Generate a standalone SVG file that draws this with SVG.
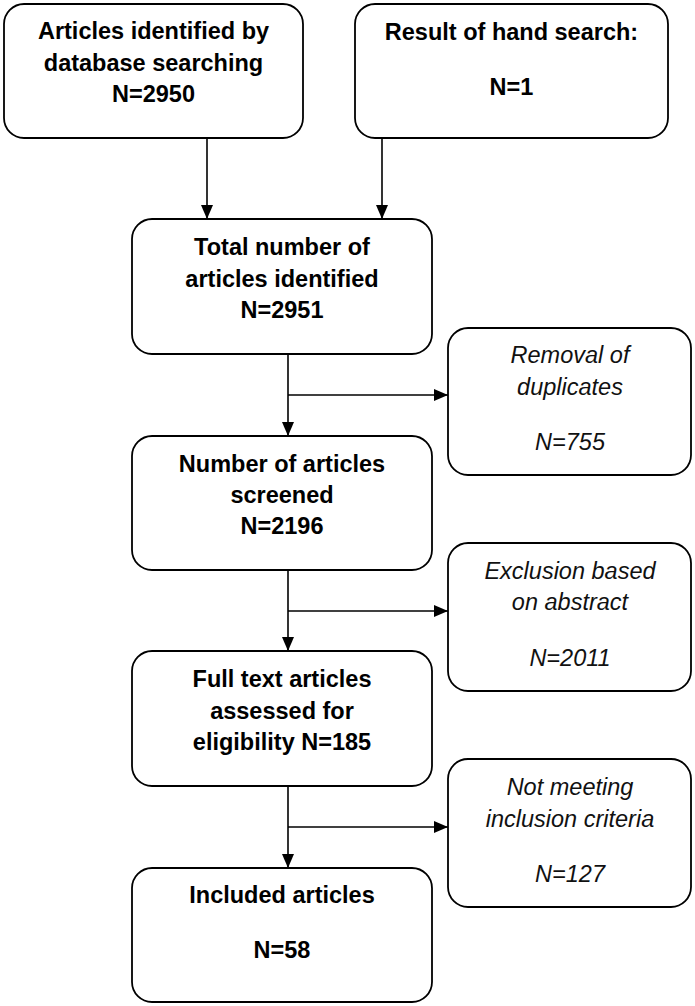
<svg xmlns="http://www.w3.org/2000/svg" width="695" height="1006" viewBox="0 0 695 1006">
<style>
.box{fill:#fff;stroke:#000;stroke-width:1.8}
.b{font-family:"Liberation Sans",Arial,sans-serif;font-weight:bold;font-size:23.5px;text-anchor:middle;fill:#000}
.i{font-family:"Liberation Sans",Arial,sans-serif;font-style:italic;font-size:23.5px;text-anchor:middle;fill:#111}
.ln{fill:none;stroke:#000;stroke-width:1.6}
</style>
<defs>
<marker id="ah" viewBox="0 0 14 12" refX="14" refY="6" markerWidth="14" markerHeight="12" markerUnits="userSpaceOnUse" orient="auto">
<path d="M0,0 L14,6 L0,12 Z" fill="#000"/>
</marker>
</defs>
<rect width="695" height="1006" fill="#fff"/>
<g id="connectors">
<line class="ln" x1="207" y1="138" x2="207" y2="219" marker-end="url(#ah)"/>
<line class="ln" x1="382" y1="138" x2="382" y2="219" marker-end="url(#ah)"/>
<line class="ln" x1="288" y1="354" x2="288" y2="436" marker-end="url(#ah)"/>
<line class="ln" x1="288" y1="395" x2="448" y2="395" marker-end="url(#ah)"/>
<line class="ln" x1="288" y1="570" x2="288" y2="651" marker-end="url(#ah)"/>
<line class="ln" x1="288" y1="611" x2="448" y2="611" marker-end="url(#ah)"/>
<line class="ln" x1="288" y1="786" x2="288" y2="868" marker-end="url(#ah)"/>
<line class="ln" x1="288" y1="827" x2="448" y2="827" marker-end="url(#ah)"/>
</g>
<g id="n1">
<rect class="box" x="4" y="4" width="299" height="134" rx="20"/>
<text class="b" x="153.5" y="39">Articles identified by</text>
<text class="b" x="153.5" y="71">database searching</text>
<text class="b" x="153.5" y="102">N=2950</text>
</g>
<g id="n2">
<rect class="box" x="355" y="4" width="313" height="134" rx="20"/>
<text class="b" x="511.5" y="40">Result of hand search:</text>
<text class="b" x="511.5" y="95">N=1</text>
</g>
<g id="n3">
<rect class="box" x="132" y="219" width="300" height="135" rx="20"/>
<text class="b" x="282" y="255">Total number of</text>
<text class="b" x="282" y="287">articles identified</text>
<text class="b" x="282" y="318">N=2951</text>
</g>
<g id="n4">
<rect class="box" x="448" y="328" width="243" height="147" rx="20"/>
<text class="i" x="570" y="363">Removal of</text>
<text class="i" x="570" y="395">duplicates</text>
<text class="i" x="570" y="450">N=755</text>
</g>
<g id="n5">
<rect class="box" x="132" y="436" width="300" height="134" rx="20"/>
<text class="b" x="282" y="472">Number of articles</text>
<text class="b" x="282" y="503">screened</text>
<text class="b" x="282" y="534">N=2196</text>
</g>
<g id="n6">
<rect class="box" x="448" y="543" width="243" height="148" rx="20"/>
<text class="i" x="570" y="579">Exclusion based</text>
<text class="i" x="570" y="610">on abstract</text>
<text class="i" x="570" y="666">N=2011</text>
</g>
<g id="n7">
<rect class="box" x="132" y="651" width="300" height="135" rx="20"/>
<text class="b" x="282" y="687">Full text articles</text>
<text class="b" x="282" y="719">assessed for</text>
<text class="b" x="282" y="750">eligibility N=185</text>
</g>
<g id="n8">
<rect class="box" x="448" y="759" width="243" height="148" rx="20"/>
<text class="i" x="570" y="795">Not meeting</text>
<text class="i" x="570" y="827">inclusion criteria</text>
<text class="i" x="570" y="882">N=127</text>
</g>
<g id="n9">
<rect class="box" x="132" y="868" width="300" height="134" rx="20"/>
<text class="b" x="282" y="903">Included articles</text>
<text class="b" x="282" y="958">N=58</text>
</g>
</svg>
